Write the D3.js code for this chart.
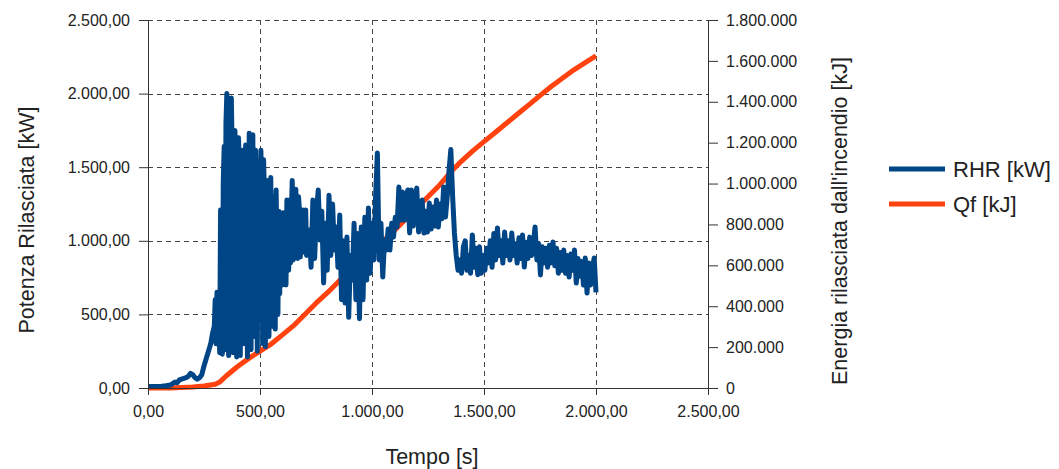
<!DOCTYPE html>
<html>
<head>
<meta charset="utf-8">
<script src="https://cdn.jsdelivr.net/npm/d3@7"></script>
<style>
	body { margin: 0; background: #fff; }
	text { font-family: "Liberation Sans", Arial, sans-serif; fill: #222; }
</style>
</head>
<body>
<div id="chart"></div>
<script>
// RHR [kW] over time [s]
const rhr = [
	[0,10],[20,10],[40,10],[60,12],[80,15],[100,20],[110,30],[120,40],[130,35],[140,55],
	[150,60],[160,65],[170,70],[180,80],[190,100],[200,90],[210,70],[220,60],[230,70],[240,90],
	[250,150],[260,200],[270,250],[280,300],[288,370],
	[296,420],[300,600],[304,300],[308,650],[312,350],[316,560],[320,240],[324,1210],[328,700],[332,230],
	[336,1400],[340,1640],[344,260],[348,1800],[352,2000],[356,600],[360,220],[364,1500],[368,1900],[372,1970],
	[376,1600],[380,240],[384,1300],[388,1750],[392,1500],[396,210],[400,900],[404,1700],[408,1500],[412,220],
	[416,1200],[420,1615],[424,800],[428,300],[432,1400],[436,1650],[440,1300],[444,210],[448,1000],[452,1730],
	[456,1600],[460,260],[464,1200],[468,1720],[472,700],[476,350],[480,1615],[484,1400],[488,250],[492,1300],
	[496,1500],[500,480],[504,1615],[508,1200],[512,300],[516,1550],[520,1300],[524,280],[528,900],[532,1410],
	[536,600],[540,350],[544,1250],[548,1430],[552,700],[556,420],[560,1300],[564,1100],[568,400],[572,1345],
	[576,900],[580,500],[584,1200],[588,640],[592,1190],[596,1000],[600,700],[604,1190],[608,780],[612,1100],
	[616,700],[620,1277],[624,1000],[628,800],[632,1277],[636,850],[640,1200],[644,1410],[648,870],[652,1300],
	[656,900],[660,1350],[664,1000],[668,880],[672,1300],[676,1210],[680,890],[684,1150],[688,920],[692,1210],
	[696,950],[700,1150],[704,1210],[708,900],[712,1073],[716,950],[720,1073],
	[728,820],[736,1277],[744,880],[752,1200],[760,1345],[768,1005],[776,1200],
	[784,713],[792,1120],[800,800],[808,1310],[816,900],[824,1250],[832,937],[840,1094],[848,820],[856,1175],
	[864,600],[872,1000],[880,577],[888,1025],[896,480],[904,900],[912,733],[920,1120],[928,600],[936,1050],
	[944,470],[952,1094],[960,600],[968,1160],[976,733],[984,1222],[992,780],[1000,1120],[1008,870],[1016,1300],
	[1024,1596],[1032,870],[1040,1120],[1048,754],[1056,1005],[1064,937],[1072,1080],[1080,937],[1088,1120],[1096,1025],
	[1104,1160],[1112,1094],[1120,1365],[1128,1141],[1136,1331],[1144,1141],[1152,1300],[1160,1345],[1168,1053],[1176,1345],
	[1184,1100],[1192,1300],[1200,1358],[1208,1060],[1216,1250],[1224,1277],[1232,1053],[1240,1200],[1248,1060],[1256,1256],
	[1264,1080],[1272,1230],[1280,1100],[1288,1277],[1296,1094],[1304,1250],[1312,1150],[1320,1365],[1328,1161],[1336,1300],
	[1344,1480],[1352,1620],[1360,1300],[1368,1053],[1376,900],[1384,800],[1392,870],[1400,780],[1408,960],[1416,1000],
	[1424,800],[1432,900],[1440,780],[1448,1040],[1456,820],[1464,950],[1472,770],[1480,960],[1488,780],[1496,900],
	[1504,800],[1512,950],[1520,850],[1528,1000],[1536,820],[1544,1050],[1552,870],[1560,1087],[1568,900],[1576,1000],
	[1584,849],[1592,1060],[1600,900],[1608,1000],[1616,870],[1624,1053],[1632,900],[1640,980],[1648,849],[1656,1020],
	[1664,880],[1672,1040],[1680,822],[1688,990],[1696,880],[1704,1025],[1712,900],[1720,980],[1728,1094],[1736,870],
	[1744,980],[1752,768],[1760,960],[1768,850],[1776,950],[1784,820],[1792,970],[1800,850],[1808,992],[1816,830],
	[1824,950],[1832,780],[1840,920],[1848,800],[1856,937],[1864,780],[1872,900],[1880,754],[1888,910],[1896,800],
	[1904,937],[1912,713],[1920,880],[1928,760],[1936,860],[1944,700],[1952,883],[1960,645],[1968,850],[1976,700],
	[1984,820],[1992,883],[2000,650]
];

// Qf [kJ] over time [s]
const qf = [
	[0,0],[100,0],[150,2000],[200,5000],[250,10000],[300,18000],[320,29000],[350,60000],[400,105000],[450,145000],
	[500,180000],[550,215000],[600,260000],[650,305000],[700,360000],[750,415000],[800,465000],[850,520000],[900,570000],[950,620000],
	[1000,670000],[1050,720000],[1100,770000],[1150,825000],[1200,880000],[1250,935000],[1300,990000],[1350,1055000],[1400,1110000],[1450,1160000],
	[1500,1205000],[1550,1250000],[1600,1295000],[1650,1340000],[1700,1385000],[1750,1430000],[1800,1475000],[1850,1515000],[1900,1555000],[1950,1590000],
	[2000,1624000]
];

const xTicks = [0, 500, 1000, 1500, 2000, 2500];
const yLeftTicks = [0, 500, 1000, 1500, 2000, 2500];
const yRightTicks = [0, 200000, 400000, 600000, 800000, 1000000, 1200000, 1400000, 1600000, 1800000];

const series = [
	{ name: 'RHR [kW]', color: '#004586' },
	{ name: 'Qf [kJ]', color: '#ff420e' }
];

const width = 1059, height = 469;
const plot = { left: 148, right: 708, top: 20, bottom: 388 };

const it = d3.formatLocale({ decimal: ',', thousands: '.', grouping: [3], currency: ['€', ''] });
const fmt2 = it.format(',.2f');
const fmt0 = it.format(',.0f');

const x = d3.scaleLinear().domain([0, 2500]).range([plot.left, plot.right]);
const yL = d3.scaleLinear().domain([0, 2500]).range([plot.bottom, plot.top]);
const yR = d3.scaleLinear().domain([0, 1800000]).range([plot.bottom, plot.top]);

const svg = d3.select('#chart').append('svg')
	.attr('width', width)
	.attr('height', height);

svg.append('rect').attr('width', width).attr('height', height).attr('fill', '#fff');

// grid
let grid = svg.append('g').attr('stroke', '#444').attr('stroke-width', 1).attr('stroke-dasharray', '5,4');
grid.selectAll('.hg')
	.data(yLeftTicks)
	.enter()
	.append('line')
	.attr('x1', plot.left).attr('x2', plot.right)
	.attr('y1', d => Math.round(yL(d)) + 0.5).attr('y2', d => Math.round(yL(d)) + 0.5);
grid.selectAll('.vg')
	.data(xTicks)
	.enter()
	.append('line')
	.attr('y1', plot.top).attr('y2', plot.bottom)
	.attr('x1', d => Math.round(x(d)) + 0.5).attr('x2', d => Math.round(x(d)) + 0.5);

// series
let line = yScale => d3.line().x(d => x(d[0])).y(d => yScale(d[1]));

svg.append('path')
	.datum(qf)
	.attr('fill', 'none')
	.attr('stroke', series[1].color)
	.attr('stroke-width', 5)
	.attr('stroke-linejoin', 'round')
	.attr('d', line(yR));

svg.append('path')
	.datum(rhr)
	.attr('fill', 'none')
	.attr('stroke', series[0].color)
	.attr('stroke-width', 5)
	.attr('stroke-linejoin', 'round')
	.attr('d', line(yL));

// axes
let styleAxis = g => {
	g.select('.domain').attr('stroke', '#333');
	g.selectAll('.tick line').attr('stroke', '#333');
	g.selectAll('.tick text')
		.style('font-family', '"Liberation Sans", Arial, sans-serif')
		.style('font-size', '16px')
		.attr('fill', '#222');
};

svg.append('g')
	.attr('transform', 'translate(' + plot.left + ',0)')
	.call(d3.axisLeft(yL).tickValues(yLeftTicks).tickFormat(fmt2).tickSize(9).tickSizeOuter(0).tickPadding(9))
	.call(styleAxis);

svg.append('g')
	.attr('transform', 'translate(' + plot.right + ',0)')
	.call(d3.axisRight(yR).tickValues(yRightTicks).tickFormat(fmt0).tickSize(10).tickSizeOuter(0).tickPadding(8))
	.call(styleAxis);

svg.append('g')
	.attr('transform', 'translate(0,' + plot.bottom + ')')
	.call(d3.axisBottom(x).tickValues(xTicks).tickFormat(fmt2).tickSize(7).tickSizeOuter(0).tickPadding(11))
	.call(styleAxis);

// titles
svg.append('text')
	.attr('transform', 'translate(34,220) rotate(-90)')
	.attr('text-anchor', 'middle')
	.style('font-size', '21.5px')
	.text('Potenza Rilasciata [kW]');

svg.append('text')
	.attr('transform', 'translate(847,221) rotate(-90)')
	.attr('text-anchor', 'middle')
	.style('font-size', '21.5px')
	.text("Energia rilasciata dall'incendio [kJ]");

svg.append('text')
	.attr('x', 432)
	.attr('y', 464)
	.attr('text-anchor', 'middle')
	.style('font-size', '21.5px')
	.text('Tempo [s]');

// legend
let legend = svg.selectAll('.legend')
	.data(series)
	.enter()
	.append('g')
	.attr('class', 'legend')
	.attr('transform', (d, i) => 'translate(889,' + (169 + i * 35) + ')');

legend.append('line')
	.attr('x1', 0).attr('x2', 56)
	.attr('stroke', d => d.color)
	.attr('stroke-width', 5);

legend.append('text')
	.attr('x', 64)
	.attr('y', 8)
	.style('font-size', '22px')
	.text(d => d.name);
</script>
</body>
</html>
